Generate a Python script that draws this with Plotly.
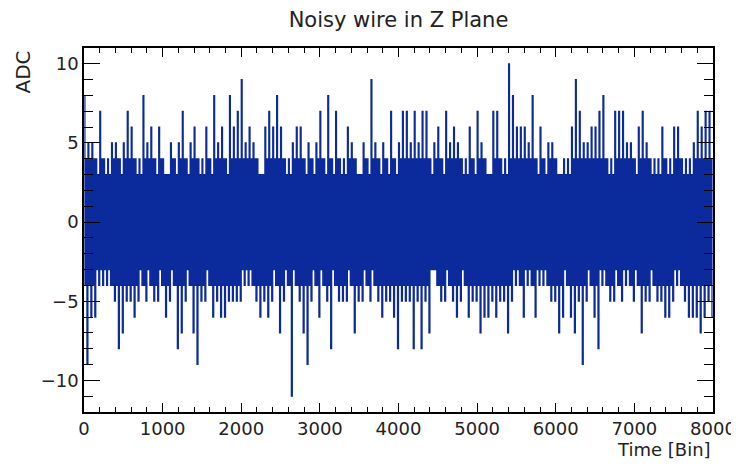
#!/usr/bin/env python3
"""
Noisy wire waveform (Z plane), ROOT-style histogram look.
The waveform is kept as per-50-bin extremes read off the reference picture.
"""
import plotly.graph_objects as go

# ---------------------------------------------------------------------------
N_BINS = 8000
CHUNK = 50            # bins per stored extreme

# max ADC in each 50-bin chunk (0..7950)
ADC_MAX = [
    8, 5, 5, 4, 7, 4, 4, 5, 5, 4, 5, 7, 6, 4, 4, 8, 5, 6, 4, 6, 4, 3, 5, 4, 5, 7, 4,
    5, 6, 4, 4, 6, 4, 8, 5, 6, 4, 8, 6, 7, 9, 5, 6, 5, 4, 3, 6, 7, 6, 8, 6, 4, 4, 5,
    6, 6, 4, 5, 4, 5, 7, 4, 8, 4, 7, 4, 4, 6, 5, 4, 3, 5, 4, 9, 5, 4, 5, 4, 7, 4, 5,
    7, 7, 5, 7, 5, 7, 7, 4, 5, 6, 4, 7, 5, 6, 5, 4, 4, 6, 4, 7, 5, 4, 3, 7, 7, 4, 4,
    10, 8, 6, 6, 6, 5, 8, 4, 6, 4, 5, 5, 4, 3, 4, 4, 6, 9, 7, 5, 5, 6, 6, 7, 8, 4, 4,
    7, 7, 7, 5, 5, 4, 6, 7, 5, 4, 4, 4, 6, 4, 4, 6, 6, 4, 4, 4, 5, 7, 6, 7, 7,
]
# min ADC in each 50-bin chunk
ADC_MIN = [
    -9, -6, -6, -4, -4, -4, -4, -5, -8, -7, -5, -5, -6, -5, -4, -5, -4, -5, -5, -4, -6, -5, -4, -8, -7, -5, -4,
    -7, -9, -5, -5, -4, -6, -5, -6, -6, -5, -5, -5, -5, -4, -4, -4, -5, -6, -5, -6, -5, -4, -7, -5, -4, -11, -4,
    -5, -7, -9, -5, -4, -6, -4, -5, -8, -4, -5, -5, -5, -4, -7, -5, -5, -4, -5, -4, -5, -6, -5, -5, -6, -8, -5,
    -5, -5, -8, -5, -8, -5, -7, -3, -4, -5, -5, -4, -5, -6, -5, -4, -6, -5, -5, -7, -6, -6, -5, -6, -5, -5, -7,
    -5, -4, -4, -6, -4, -4, -6, -4, -4, -4, -5, -5, -7, -6, -4, -6, -7, -5, -9, -5, -4, -6, -8, -4, -4, -5, -5,
    -4, -5, -4, -4, -5, -4, -7, -5, -5, -4, -5, -5, -6, -6, -5, -4, -4, -5, -6, -6, -6, -7, -6, -5, -6,
]

LINE_COLOR = "#0b2a9c"
FONT = "DejaVu Sans, Liberation Sans, Arial, sans-serif"

# the page body has an 8px margin, so the figure is laid out inside 731x456
FIG_W, FIG_H = 731, 456
# ---------------------------------------------------------------------------


def build_waveform():
    # each chunk: spike up, dense body down/up, spike down (drawn as a step line)
    xs, ys = [], []
    for i, (hi, lo) in enumerate(zip(ADC_MAX, ADC_MIN)):
        c = i * CHUNK
        body_hi = 4 if hi >= 5 else 3
        body_lo = -4 if lo <= -5 else -3
        xs += [c, c + 12, c + 25, c + 37]
        ys += [hi, body_lo, body_hi, lo]
    xs.append(N_BINS)
    ys.append(ADC_MIN[-1])
    return xs, ys


def main():
    xs, ys = build_waveform()
    fig = go.Figure()
    fig.add_trace(go.Scatter(
        x=xs, y=ys, mode="lines",
        line=dict(color=LINE_COLOR, width=1.2, shape="hv"),
        hoverinfo="skip", showlegend=False,
    ))

    axis_common = dict(
        showline=True, linecolor="black", linewidth=1.5, mirror="ticks",
        ticks="inside", tickcolor="black", tickwidth=1,
        showgrid=False, zeroline=False, automargin=False,
        tickfont=dict(family=FONT, size=18, color="#222"),
    )
    fig.update_xaxes(
        range=[0, N_BINS], tickmode="linear", tick0=0, dtick=1000, ticklen=9,
        minor=dict(ticks="inside", dtick=200, ticklen=5, tickcolor="black"),
        **axis_common,
    )
    fig.update_yaxes(
        range=[-12, 11], tickmode="linear", tick0=0, dtick=5, ticklen=16,
        minor=dict(ticks="inside", dtick=1, ticklen=9, tickcolor="black"),
        **axis_common,
    )

    fig.update_layout(
        width=FIG_W, height=FIG_H,
        margin=dict(l=76, r=26, t=40, b=52),
        paper_bgcolor="white", plot_bgcolor="white",
        title=dict(text="Noisy wire in Z Plane", xref="paper", x=0.5, xanchor="center",
                   y=1 - 12 / FIG_H, yanchor="middle",
                   font=dict(family=FONT, size=21, color="#222")),
        annotations=[
            dict(text="ADC", xref="paper", yref="paper", x=-0.097, y=1.0,
                 xanchor="center", yanchor="top", textangle=-90, showarrow=False,
                 font=dict(family=FONT, size=20, color="#222")),
            dict(text="Time [Bin]", xref="paper", yref="paper", x=1.0, y=-0.07,
                 xanchor="right", yanchor="top", showarrow=False,
                 font=dict(family=FONT, size=18, color="#222")),
        ],
    )
    fig.write_html("out.html")


if __name__ == "__main__":
    main()
